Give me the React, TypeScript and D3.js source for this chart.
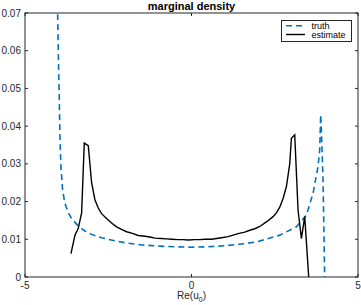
import * as d3 from "d3";

// truth density (blue dashed)
const truthX = [-4.03, -4.01, -3.99, -3.97, -3.95, -3.92, -3.87, -3.8, -3.7, -3.6, -3.4, -3.2, -3.0, -2.7, -2.3, -2.0, -1.5, -1.0, -0.5, 0, 0.5, 1.0, 1.65, 2.0, 2.65, 3.15, 3.45, 3.65, 3.8, 3.85, 3.88, 3.9, 3.95, 4.0];
const truthY = [0.075, 0.065, 0.055, 0.047, 0.037, 0.029, 0.023, 0.0195, 0.017, 0.0155, 0.0135, 0.0122, 0.0113, 0.0104, 0.0096, 0.0091, 0.0085, 0.0082, 0.008, 0.0079, 0.008, 0.0083, 0.0089, 0.0094, 0.0111, 0.0133, 0.0164, 0.0222, 0.0293, 0.0337, 0.043, 0.039, 0.0257, 0];

// estimate (black solid)
const estX = [-3.62, -3.5, -3.4, -3.3, -3.22, -3.1, -3.0, -2.9, -2.8, -2.7, -2.55, -2.4, -2.25, -2.1, -1.95, -1.75, -1.6, -1.4, -1.25, -1.1, -0.9, -0.75, -0.6, -0.4, -0.25, -0.1, 0.1, 0.25, 0.4, 0.6, 0.75, 0.9, 1.1, 1.25, 1.4, 1.6, 1.75, 1.9, 2.05, 2.25, 2.45, 2.55, 2.65, 2.75, 2.85, 2.95, 3.0, 3.1, 3.2, 3.3, 3.4, 3.52];
const estY = [0.0062, 0.0111, 0.0129, 0.017, 0.0355, 0.0348, 0.025, 0.0205, 0.0183, 0.0168, 0.0155, 0.0143, 0.0133, 0.0126, 0.012, 0.0115, 0.011, 0.0108, 0.0106, 0.0103, 0.0102, 0.0101, 0.01, 0.0099, 0.0099, 0.0098, 0.0099, 0.0099, 0.01, 0.01, 0.0102, 0.0104, 0.0107, 0.0111, 0.0115, 0.0119, 0.0124, 0.0128, 0.0134, 0.0146, 0.016, 0.017, 0.0185, 0.0208, 0.024, 0.03, 0.0368, 0.0377, 0.0177, 0.0102, 0.016, 0];

const xTicks = [-5, 0, 5];
const yTicks = [0, 0.01, 0.02, 0.03, 0.04, 0.05, 0.06, 0.07];
const legendLabels = ["truth", "estimate"];

const W = 361;
const H = 305;
const m = { left: 25, right: 3, top: 13, bottom: 28 };
const font = "'Liberation Sans', Arial, Helvetica, sans-serif";
const axisColor = "#262626";
const blue = "#0072BD";

export default function App() {
  const x = d3.scaleLinear().domain([-5, 5]).range([m.left, W - m.right]);
  const y = d3.scaleLinear().domain([0, 0.07]).range([H - m.bottom, m.top]);

  const line = d3
    .line<[number, number]>()
    .x((d) => x(d[0]))
    .y((d) => y(d[1]));

  const truth = truthX.map((v, i) => [v, truthY[i]] as [number, number]);
  const est = estX.map((v, i) => [v, estY[i]] as [number, number]);

  const x0 = x(-5), x1 = x(5), y0 = y(0), y1 = y(0.07);
  const tl = 3;

  return (
    <svg width={W} height={H} style={{ position: "absolute", left: 0, top: 0, background: "#fff" }} fontFamily={font}>
      <defs>
        <clipPath id="plot">
          <rect x={x0} y={y1} width={x1 - x0} height={y0 - y1} />
        </clipPath>
      </defs>
      <rect width={W} height={H} fill="#fff" />

      <g clipPath="url(#plot)" fill="none">
        <path d={line(truth) || ""} stroke={blue} strokeWidth={1.6} strokeDasharray="6,4" />
        <path d={line(est) || ""} stroke="#000" strokeWidth={1.4} />
      </g>

      {/* box */}
      <rect x={x0} y={y1} width={x1 - x0} height={y0 - y1} fill="none" stroke={axisColor} strokeWidth={1} />

      {yTicks.map((t) => (
        <g key={"y" + t}>
          <line x1={x0} x2={x0 + tl} y1={y(t)} y2={y(t)} stroke={axisColor} />
          <line x1={x1} x2={x1 - tl} y1={y(t)} y2={y(t)} stroke={axisColor} />
          <text x={x0 - 4} y={y(t) + 3.5} fontSize={10} textAnchor="end" fill={axisColor}>
            {t === 0 ? "0" : t.toFixed(2).replace(/^0/, "0")}
          </text>
        </g>
      ))}
      {xTicks.map((t) => (
        <g key={"x" + t}>
          <line x1={x(t)} x2={x(t)} y1={y0} y2={y0 - tl} stroke={axisColor} />
          <line x1={x(t)} x2={x(t)} y1={y1} y2={y1 + tl} stroke={axisColor} />
          <text x={x(t)} y={y0 + 12} fontSize={10} textAnchor="middle" fill={axisColor}>
            {t}
          </text>
        </g>
      ))}

      <text x={(x0 + x1) / 2} y={H - 6} fontSize={10} textAnchor="middle" fill={axisColor}>
        Re(u<tspan fontSize={7} dy={3}>0</tspan><tspan dy={-3}>)</tspan>
      </text>

      <text x={(x0 + x1) / 2} y={10} fontSize={11} fontWeight="bold" textAnchor="middle" fill="#000">
        marginal density
      </text>

      {/* legend */}
      <g>
        <rect x={281.5} y={20.5} width={70} height={21} fill="#fff" stroke={axisColor} strokeWidth={1} />
        <line x1={286} x2={305} y1={25.8} y2={25.8} stroke={blue} strokeWidth={1.6} strokeDasharray="6,4" />
        <line x1={286} x2={305} y1={34.5} y2={34.5} stroke="#000" strokeWidth={1.4} />
        <text x={311.5} y={29} fontSize={9} fill="#000">{legendLabels[0]}</text>
        <text x={311.5} y={38} fontSize={9} fill="#000">{legendLabels[1]}</text>
      </g>
    </svg>
  );
}
